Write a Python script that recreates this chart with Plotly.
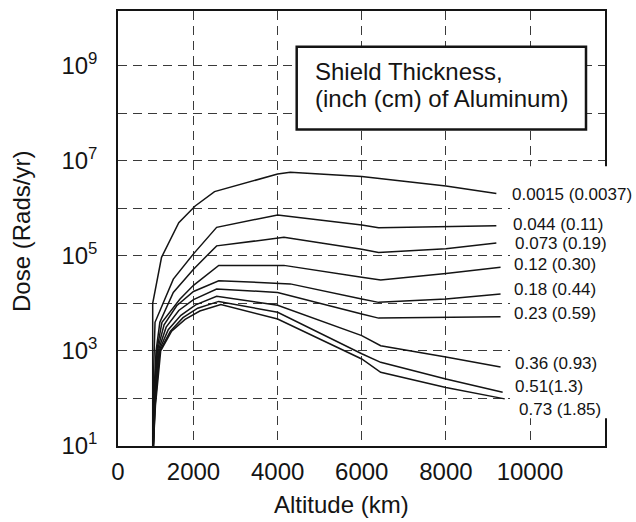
import plotly.graph_objects as go

# ---- data (altitude km, dose rads/yr) ----
ALT_0015 = [1030, 1030, 1240, 1650, 2040, 2500, 4000, 4300, 6000, 8000, 9200]
DOSE_0015 = [10, 1.0e4, 9.3e4, 5.0e5, 1.12e6, 2.24e6, 5.25e6, 5.75e6, 4.68e6, 2.95e6, 2.04e6]

ALT_044 = [1040, 1050, 1085, 1520, 2000, 2550, 4000, 6000, 6400, 8000, 9200]
DOSE_044 = [10, 316, 4.0e3, 3.24e4, 1.1e5, 3.98e5, 7.24e5, 4.47e5, 3.89e5, 4.07e5, 4.27e5]

ALT_073 = [1045, 1065, 1110, 1200, 1520, 2000, 2550, 4150, 6000, 6400, 8000, 9200]
DOSE_073 = [10, 158, 1.0e3, 4.0e3, 1.7e4, 5.25e4, 1.62e5, 2.45e5, 1.38e5, 1.17e5, 1.41e5, 1.86e5]

ALT_12 = [1045, 1070, 1125, 1250, 1680, 2000, 2600, 4150, 6000, 6450, 8000, 9300]
DOSE_12 = [10, 126, 1.0e3, 4.0e3, 1.23e4, 2.4e4, 6.3e4, 6.3e4, 3.55e4, 3.1e4, 4.27e4, 5.75e4]

ALT_18 = [1045, 1075, 1140, 1300, 1600, 2000, 2600, 4300, 6000, 6400, 8000, 9300]
DOSE_18 = [10, 112, 1.0e3, 3.55e3, 8.9e3, 1.78e4, 3.0e4, 2.57e4, 1.23e4, 1.05e4, 1.23e4, 1.58e4]

ALT_23 = [1045, 1080, 1160, 1350, 1650, 2000, 2550, 4000, 6000, 6400, 9300]
DOSE_23 = [10, 100, 1.0e3, 3.16e3, 7.1e3, 1.2e4, 2.0e4, 1.7e4, 6.0e3, 4.9e3, 5.25e3]

ALT_36 = [1045, 1085, 1180, 1400, 1700, 2050, 2550, 4000, 6000, 6450, 8000, 9300]
DOSE_36 = [10, 89, 1.0e3, 2.8e3, 5.6e3, 9.3e3, 1.41e4, 9.1e3, 2.1e3, 1.29e3, 741, 457]

ALT_51 = [1045, 1090, 1200, 1450, 1750, 2100, 2600, 4000, 6000, 6450, 8000, 9350]
DOSE_51 = [10, 79, 1.0e3, 2.6e3, 5.0e3, 7.9e3, 1.1e4, 6.5e3, 871, 575, 257, 135]

ALT_73 = [1045, 1095, 1220, 1480, 1800, 2150, 2650, 4000, 6000, 6450, 8000, 9400]
DOSE_73 = [10, 71, 1.0e3, 2.6e3, 4.6e3, 6.9e3, 9.5e3, 4.7e3, 676, 355, 170, 98]

CURVE_LABELS = ["0.0015 (0.0037)", "0.044 (0.11)", "0.073 (0.19)", "0.12 (0.30)",
                "0.18 (0.44)", "0.23 (0.59)", "0.36 (0.93)", "0.51(1.3)", "0.73 (1.85)"]

X_TICKS = [2000, 4000, 6000, 8000, 10000]
Y_TICKS = [1e1, 1e2, 1e3, 1e4, 1e5, 1e6, 1e7, 1e8, 1e9]
Y_TICKTEXT = ["10<sup>1</sup>", "", "10<sup>3</sup>", "", "10<sup>5</sup>", "",
              "10<sup>7</sup>", "", "10<sup>9</sup>"]

X_MIN, X_MAX = 205, 11783
Y_LOG_MIN, Y_LOG_MAX = 1.0, 10.15

FONT = "Liberation Sans, Arial, Helvetica, sans-serif"
INK = "#141414"

series = [
    (ALT_0015, DOSE_0015), (ALT_044, DOSE_044), (ALT_073, DOSE_073),
    (ALT_12, DOSE_12), (ALT_18, DOSE_18), (ALT_23, DOSE_23),
    (ALT_36, DOSE_36), (ALT_51, DOSE_51), (ALT_73, DOSE_73),
]

fig = go.Figure()
for (alt, dose), name in zip(series, CURVE_LABELS):
    fig.add_trace(go.Scatter(x=alt, y=dose, mode="lines", name=name,
                             line=dict(color=INK, width=1.5),
                             showlegend=False, hoverinfo="skip"))

# plot area in pixels: x 118..605, y 9..446
L, R, T, B = 118, 605, 9, 446
W, H = 636, 522


def px(xp):
    return (xp - L) / (R - L)


def py(yp):
    return (B - yp) / (B - T)


fig.update_layout(
    width=W, height=H,
    margin=dict(l=L, r=W - R, t=T, b=H - B, pad=0),
    paper_bgcolor="white", plot_bgcolor="white",
    font=dict(family=FONT, color=INK, size=24),
    xaxis=dict(
        range=[X_MIN, X_MAX],
        tickvals=[X_MIN] + X_TICKS,
        ticktext=["0"] + [str(v) for v in X_TICKS],
        showgrid=True, gridcolor="#3a3a3a", gridwidth=1, griddash="9px,6px",
        showline=True, linecolor=INK, linewidth=1.5, mirror=True,
        ticks="", zeroline=False, tickfont=dict(size=24),
        ticklabelstandoff=3,
    ),
    yaxis=dict(
        type="log", range=[Y_LOG_MIN, Y_LOG_MAX],
        tickvals=Y_TICKS, ticktext=Y_TICKTEXT,
        showgrid=True, gridcolor="#3a3a3a", gridwidth=1, griddash="9px,6px",
        showline=True, linecolor=INK, linewidth=1.5, mirror=True,
        ticks="", zeroline=False, tickfont=dict(size=24),
        ticklabelstandoff=14,
    ),
    shapes=[
        # white region behind the curve labels (hides grid and frame there)
        dict(type="rect", xref="paper", yref="paper",
             x0=px(510), x1=px(636), y0=py(418), y1=py(165),
             fillcolor="white", line=dict(width=0), layer="above"),
        # title box
        dict(type="rect", xref="paper", yref="paper",
             x0=px(296.7), x1=px(586), y0=py(128), y1=py(45),
             fillcolor="white", line=dict(color=INK, width=2.5), layer="above"),
    ],
)

annotations = [
    dict(text="Shield Thickness,", x=px(313), y=py(70), xanchor="left", yanchor="middle",
         font=dict(size=24)),
    dict(text="(inch (cm) of Aluminum)", x=px(313), y=py(97), xanchor="left", yanchor="middle",
         font=dict(size=24)),
    dict(text="Dose (Rads/yr)", x=px(22), y=py(231), textangle=-90,
         xanchor="center", yanchor="middle", font=dict(size=24)),
    dict(text="Altitude (km)", x=px(341.5), y=py(505),
         xanchor="center", yanchor="middle", font=dict(size=24)),
]

LABEL_POS = [(510, 193), (510.7, 223), (512.7, 242.5), (511.7, 264), (511.7, 289),
             (511.7, 312.5), (513.3, 363), (513.3, 386), (517.3, 409)]
for txt, (lx, ly) in zip(CURVE_LABELS, LABEL_POS):
    annotations.append(dict(text=txt, x=px(lx), y=py(ly), xanchor="left",
                            yanchor="middle", font=dict(size=17)))

for a in annotations:
    a.update(xref="paper", yref="paper", showarrow=False)
fig.update_layout(annotations=annotations)

fig.write_html("out.html")
